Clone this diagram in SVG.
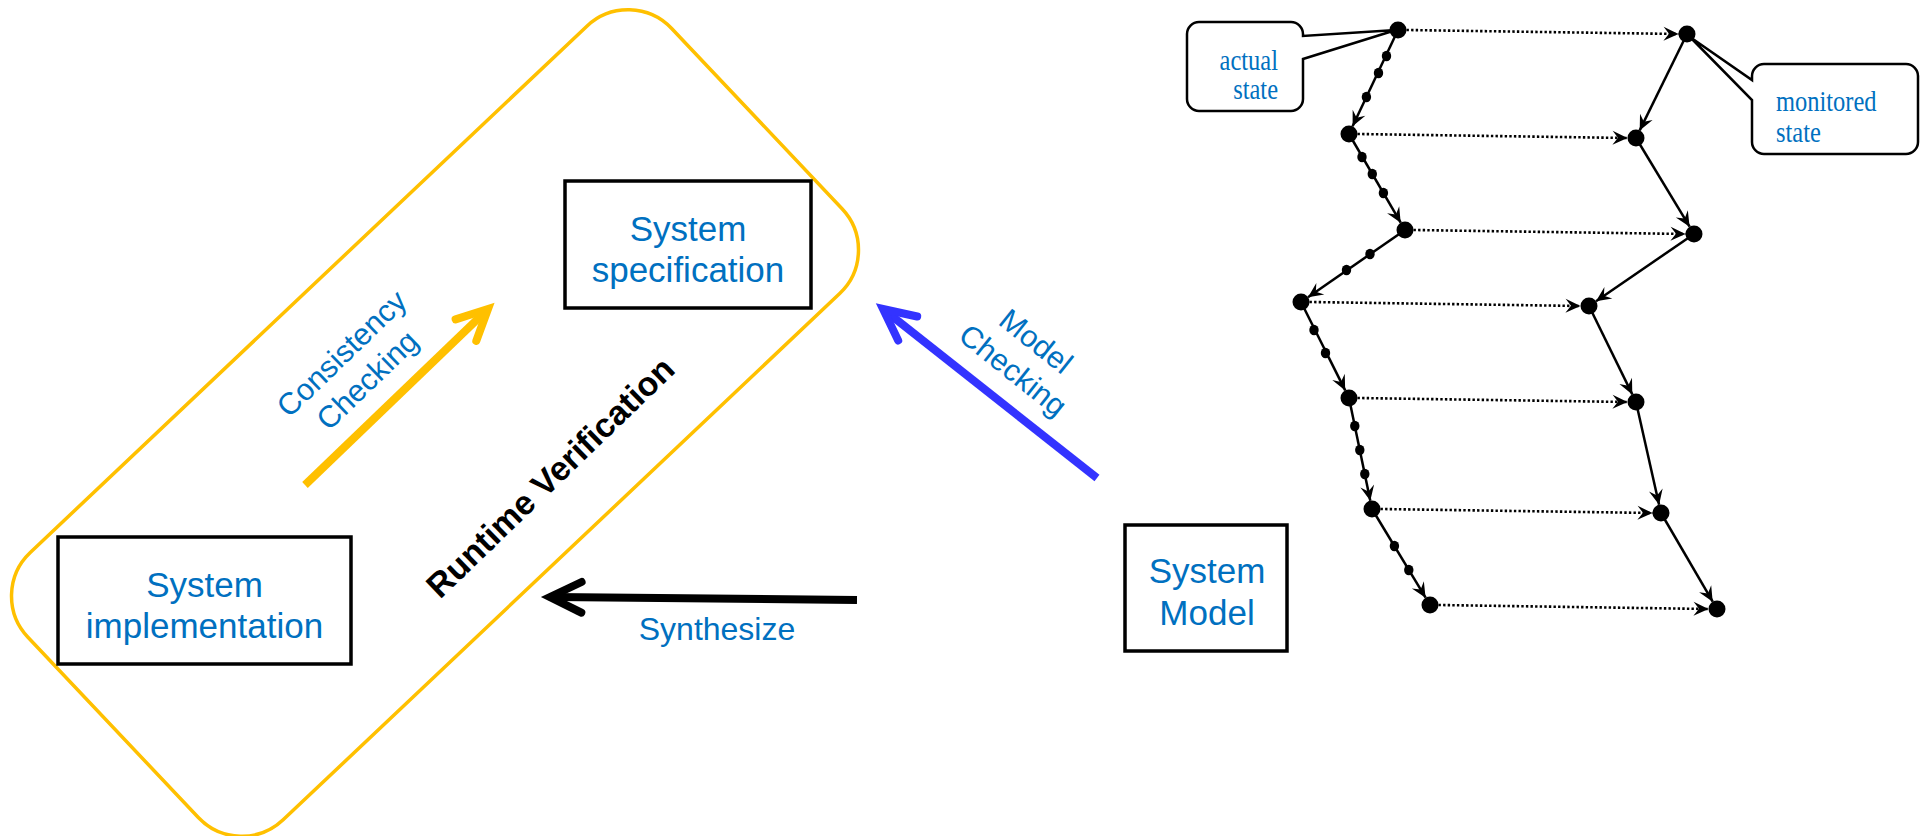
<svg xmlns="http://www.w3.org/2000/svg" width="1920" height="836" viewBox="0 0 1920 836">
  <style>
    .box { fill: #ffffff; stroke: #000000; stroke-width: 3.5; }
    .lbl { font-family: "Liberation Sans", Arial, sans-serif; fill: #0070C0; }
    .big { font-size: 35px; text-anchor: middle; }
    .diag { font-size: 30.5px; text-anchor: middle; }
    .rv { font-family: "Liberation Sans", Arial, sans-serif; font-weight: bold; font-size: 34px; fill: #000000; text-anchor: middle; }
    .serif { font-family: "Liberation Serif", "Times New Roman", serif; font-size: 29.5px; fill: #0070C0; }
    .shaft { fill: none; stroke-width: 8; stroke-linecap: butt; }
    .head { fill: none; stroke-width: 8; stroke-linecap: round; stroke-linejoin: miter; stroke-miterlimit: 10; }
    .step { fill: none; stroke: #000000; stroke-width: 2.5; marker-end: url(#stealth); }
    .obs { fill: none; stroke: #000000; stroke-width: 2.6; stroke-dasharray: 2.4 2.2; marker-end: url(#stealth); }
    .callout { fill: #ffffff; stroke: #000000; stroke-width: 2.5; stroke-linejoin: miter; }
    .state { fill: #000000; }
  </style>
  <defs>
    <marker id="stealth" viewBox="-16 -8 17 16" refX="0" refY="0" markerWidth="17" markerHeight="16" markerUnits="userSpaceOnUse" orient="auto">
      <path d="M0,0 L-15,-7 L-9.5,0 L-15,7 Z" fill="#000000"/>
    </marker>
  </defs>

  <rect width="1920" height="836" fill="#ffffff"/>

  <!-- runtime verification boundary -->
  <g id="rv-boundary">
    <rect x="-443" y="-184" width="886" height="368" rx="60" ry="60" transform="translate(435,423) rotate(-43.4)" fill="none" stroke="#FFC000" stroke-width="3.5"/>
  </g>

  <!-- main arrows -->
  <g id="connectors">
    <g id="consistency-arrow" stroke="#FFC000">
      <path class="shaft" d="M305,485 L485.1,311.8"/>
      <path class="head" d="M455.6,319.4 L488,309 L476.3,340.9"/>
    </g>
    <g id="model-checking-arrow" stroke="#3333FF">
      <path class="shaft" d="M1097,478 L886.1,311.5"/>
      <path class="head" d="M917.2,316.5 L883,309 L898.2,340.5"/>
    </g>
    <g id="synthesize-arrow" stroke="#000000">
      <path class="shaft" d="M857,600 L554,597"/>
      <path class="head" d="M581.6,582 L550,597 L581.3,612.7"/>
    </g>
  </g>

  <!-- nodes -->
  <g id="node-spec">
    <rect class="box" x="565" y="181" width="246" height="127"/>
    <text class="lbl big" x="688" y="241">System</text>
    <text class="lbl big" x="688" y="282">specification</text>
  </g>
  <g id="node-impl">
    <rect class="box" x="58" y="537" width="293" height="127"/>
    <text class="lbl big" x="204.5" y="597">System</text>
    <text class="lbl big" x="204.5" y="638">implementation</text>
  </g>
  <g id="node-model">
    <rect class="box" x="1125" y="525" width="162" height="126"/>
    <text class="lbl big" x="1207" y="583">System</text>
    <text class="lbl big" x="1207" y="625">Model</text>
  </g>

  <!-- arrow labels -->
  <g id="labels">
    <g transform="translate(356.5,369) rotate(-44)">
      <text class="lbl diag" x="0" y="-11">Consistency</text>
      <text class="lbl diag" x="0" y="26">Checking</text>
    </g>
    <g transform="translate(1024,356.5) rotate(38.5)">
      <text class="lbl diag" x="0" y="-9">Model</text>
      <text class="lbl diag" x="0" y="28">Checking</text>
    </g>
    <text class="rv" transform="translate(550,477) rotate(-44)" x="0" y="12">Runtime Verification</text>
    <text class="lbl" x="717" y="640" font-size="32" text-anchor="middle">Synthesize</text>
  </g>

  <!-- execution trace: actual states (left) and monitored states (right) -->
  <g id="trace-edges">
    <!-- actual state steps -->
    <path class="step" d="M1398,30 L1352.6,126.3"/>
    <path class="step" d="M1349,134 L1400.7,222.7"/>
    <path class="step" d="M1405,230 L1308,297.2"/>
    <path class="step" d="M1301,302 L1345.2,390.4"/>
    <path class="step" d="M1349,398 L1370.3,500.7"/>
    <path class="step" d="M1372,509 L1425.6,597.7"/>
    <!-- monitored state steps -->
    <path class="step" d="M1687,34 L1639.7,130.4"/>
    <path class="step" d="M1636,138 L1689.6,226.7"/>
    <path class="step" d="M1694,234 L1596,301.2"/>
    <path class="step" d="M1589,306 L1632.3,394.4"/>
    <path class="step" d="M1636,402 L1659.1,504.7"/>
    <path class="step" d="M1661,513 L1712.7,601.7"/>
    <!-- observation links -->
    <path class="obs" d="M1406.5,30 L1678.5,34"/>
    <path class="obs" d="M1357.5,134 L1627.5,138"/>
    <path class="obs" d="M1413.5,230 L1685.5,234"/>
    <path class="obs" d="M1309.5,302 L1580.5,306"/>
    <path class="obs" d="M1357.5,398 L1627.5,402"/>
    <path class="obs" d="M1380.5,509 L1652.5,513"/>
    <path class="obs" d="M1438.5,605 L1708.5,609"/>
  </g>

  <g id="callout-actual">
    <path class="callout" d="M1199,22 H1291 A12,12 0 0 1 1303,34 V36 L1396,30 L1303,59 V99 A12,12 0 0 1 1291,111 H1199 A12,12 0 0 1 1187,99 V34 A12,12 0 0 1 1199,22 Z"/>
    <text class="serif" transform="translate(1278,70) scale(0.83,1)" text-anchor="end">actual</text>
    <text class="serif" transform="translate(1278,99) scale(0.83,1)" text-anchor="end">state</text>
  </g>
  <g id="callout-monitored">
    <path class="callout" d="M1764,64 H1906 A12,12 0 0 1 1918,76 V142 A12,12 0 0 1 1906,154 H1764 A12,12 0 0 1 1752,142 V100 L1690,37 L1752,80 V76 A12,12 0 0 1 1764,64 Z"/>
    <text class="serif" transform="translate(1776,111) scale(0.83,1)">monitored</text>
    <text class="serif" transform="translate(1776,142) scale(0.83,1)">state</text>
  </g>

  <g id="trace-states">
    <!-- actual states -->
    <circle class="state" cx="1398" cy="30" r="8.5"/>
    <circle class="state" cx="1349" cy="134" r="8.5"/>
    <circle class="state" cx="1405" cy="230" r="8.5"/>
    <circle class="state" cx="1301" cy="302" r="8.5"/>
    <circle class="state" cx="1349" cy="398" r="8.5"/>
    <circle class="state" cx="1372" cy="509" r="8.5"/>
    <circle class="state" cx="1430" cy="605" r="8.5"/>
    <!-- intermediate steps -->
    <ellipse class="state" cx="1386.5" cy="56" rx="4.7" ry="5.3"/>
    <ellipse class="state" cx="1378.5" cy="73" rx="4.7" ry="5.3"/>
    <ellipse class="state" cx="1366.4" cy="97" rx="4.7" ry="5.3"/>
    <ellipse class="state" cx="1362" cy="157" rx="4.7" ry="5.3"/>
    <ellipse class="state" cx="1372.3" cy="174" rx="4.7" ry="5.3"/>
    <ellipse class="state" cx="1383.4" cy="193" rx="4.7" ry="5.3"/>
    <ellipse class="state" cx="1370" cy="254" rx="4.7" ry="5.3"/>
    <ellipse class="state" cx="1346.5" cy="270" rx="4.7" ry="5.3"/>
    <ellipse class="state" cx="1314" cy="330" rx="4.7" ry="5.3"/>
    <ellipse class="state" cx="1325.5" cy="353" rx="4.7" ry="5.3"/>
    <ellipse class="state" cx="1354.8" cy="426" rx="4.7" ry="5.3"/>
    <ellipse class="state" cx="1359.8" cy="450" rx="4.7" ry="5.3"/>
    <ellipse class="state" cx="1364.8" cy="474" rx="4.7" ry="5.3"/>
    <ellipse class="state" cx="1394.4" cy="546" rx="4.7" ry="5.3"/>
    <ellipse class="state" cx="1408.8" cy="570" rx="4.7" ry="5.3"/>
    <!-- monitored states -->
    <circle class="state" cx="1687" cy="34" r="8.5"/>
    <circle class="state" cx="1636" cy="138" r="8.5"/>
    <circle class="state" cx="1694" cy="234" r="8.5"/>
    <circle class="state" cx="1589" cy="306" r="8.5"/>
    <circle class="state" cx="1636" cy="402" r="8.5"/>
    <circle class="state" cx="1661" cy="513" r="8.5"/>
    <circle class="state" cx="1717" cy="609" r="8.5"/>
  </g>
</svg>
